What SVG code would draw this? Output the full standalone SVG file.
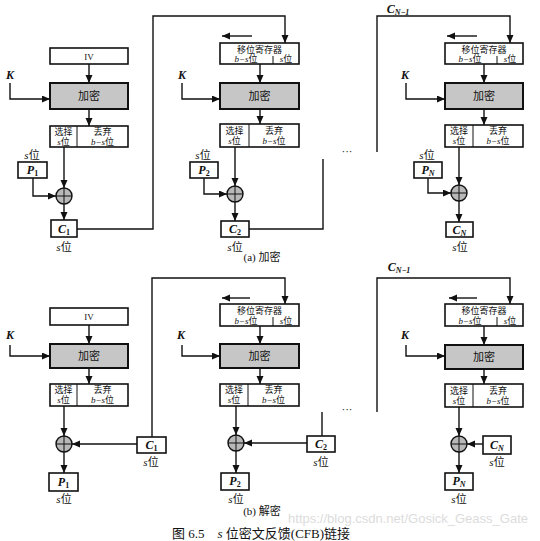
<svg xmlns="http://www.w3.org/2000/svg" width="540" height="541" viewBox="0 0 540 541">
<defs>
<marker id="ah" markerUnits="userSpaceOnUse" markerWidth="9" markerHeight="8" refX="8" refY="3.5" orient="auto">
<path d="M0,0 L8,3.5 L0,7 z" fill="#111"/>
</marker>
<style>
.bx{fill:#fff;stroke:#111;stroke-width:1.6}
.enc{fill:#c6c6c6;stroke:#111;stroke-width:2}
.ln{fill:none;stroke:#111;stroke-width:1.4}
.ar{fill:none;stroke:#111;stroke-width:1.4;marker-end:url(#ah)}
.dv{stroke:#111;stroke-width:1}
.x{fill:#b8b8b8;stroke:#111;stroke-width:1.4}
text{font-family:"Liberation Serif","Noto Sans CJK SC",serif;fill:#111;text-anchor:middle}
.t9{font-size:9px}
.t11{font-size:11px}
.v{font-size:12px;font-weight:bold;font-style:italic}
.sub{font-size:8px;font-style:normal}
.subn{font-size:8px}
.i{font-style:italic}
</style>
</defs>
<rect width="540" height="541" fill="#fff"/>

<g id="connectors">
<!-- (a) col1 -->
<path class="ar" d="M89,64 V83"/>
<path class="ar" d="M89,109 V126"/>
<path class="ar" d="M10,83 V99 H50"/>
<path class="ar" d="M64,147 V188"/>
<path class="ar" d="M33,178 V196 H56"/>
<path class="ar" d="M64,204 V220"/>
<path class="ar" d="M77,229 H153 V16 H285 V43"/>
<!-- (a) col2 -->
<path class="ar" d="M252,36 H222"/>
<path class="ar" d="M260,64 V83"/>
<path class="ar" d="M260,109 V124"/>
<path class="ar" d="M182,83 V99 H220"/>
<path class="ar" d="M235,147 V186"/>
<path class="ar" d="M204,178 V194 H227"/>
<path class="ar" d="M235,202 V221"/>
<path class="ln" d="M249,229 H323 V159"/>
<!-- (a) col3 -->
<path class="ar" d="M377,152 V16 H510 V43"/>
<path class="ar" d="M477,36 H447"/>
<path class="ar" d="M484,64 V83"/>
<path class="ar" d="M484,109 V125"/>
<path class="ar" d="M406,83 V99 H445"/>
<path class="ar" d="M459,147 V185"/>
<path class="ar" d="M428,178 V193 H451"/>
<path class="ar" d="M459,201 V222"/>
<!-- (b) col1 -->
<path class="ar" d="M89,325 V344"/>
<path class="ar" d="M89,368 V384"/>
<path class="ar" d="M10,345 V356 H50"/>
<path class="ar" d="M64,406 V436"/>
<path class="ar" d="M137,444 H72"/>
<path class="ar" d="M152,437 V278 H285 V304"/>
<path class="ar" d="M64,452 V473"/>
<!-- (b) col2 -->
<path class="ar" d="M250,298 H222"/>
<path class="ar" d="M260,326 V344"/>
<path class="ar" d="M260,368 V384"/>
<path class="ar" d="M182,345 V356 H220"/>
<path class="ar" d="M236,406 V435"/>
<path class="ar" d="M307,443 H244"/>
<path class="ln" d="M322,436 V412"/>
<path class="ar" d="M236,451 V473"/>
<!-- (b) col3 -->
<path class="ar" d="M377,412 V278 H510 V304"/>
<path class="ar" d="M477,298 H449"/>
<path class="ar" d="M484,326 V345"/>
<path class="ar" d="M484,369 V384"/>
<path class="ar" d="M406,345 V356 H445"/>
<path class="ar" d="M459,407 V436"/>
<path class="ar" d="M483,444 H467"/>
<path class="ar" d="M459,452 V473"/>
</g>

<!-- ===== (a) col1 ===== -->
<g id="a-iv"><rect class="bx" x="50" y="48" width="78" height="16"/><text class="t9" x="89" y="60">IV</text></g>
<g id="a-enc1"><rect class="enc" x="50" y="83" width="78" height="26"/><text class="t11" x="89" y="100">加密</text></g>
<g id="a-k1"><text class="v" x="10" y="79">K</text></g>
<g id="a-sel1"><rect class="bx" x="50" y="126" width="78" height="21"/><line class="dv" x1="77" y1="126" x2="77" y2="147"/>
<text class="t9" x="63.5" y="135">选择</text><text class="t9" x="63.5" y="145"><tspan class="i">s</tspan>位</text>
<text class="t9" x="102.5" y="135">丢弃</text><text class="t9" x="102.5" y="145"><tspan class="i">b−s</tspan>位</text></g>
<g id="a-p1"><text class="t11" x="32" y="159"><tspan class="i">s</tspan>位</text><rect class="bx" x="18" y="162" width="29" height="16"/><text class="v" x="32.5" y="174">P<tspan class="sub" dy="2">1</tspan></text></g>
<g id="a-x1"><circle class="x" cx="64" cy="196" r="8"/><path class="dv" d="M56,196 H72 M64,188 V204"/></g>
<g id="a-c1"><rect class="bx" x="51" y="220" width="26" height="17"/><text class="v" x="64" y="233">C<tspan class="sub" dy="2">1</tspan></text><text class="t11" x="64" y="251"><tspan class="i">s</tspan>位</text></g>

<!-- ===== (a) col2 ===== -->
<g id="a-sr2"><rect class="bx" x="220" y="43" width="79" height="21"/><line class="dv" x1="273" y1="56" x2="273" y2="64"/>
<text class="t9" x="259.5" y="53">移位寄存器</text><text class="t9" x="246" y="62"><tspan class="i">b−s</tspan>位</text><text class="t9" x="286" y="62"><tspan class="i">s</tspan>位</text></g>
<g id="a-enc2"><rect class="enc" x="220" y="83" width="79" height="26"/><text class="t11" x="259.5" y="100">加密</text></g>
<g id="a-k2"><text class="v" x="182" y="79">K</text></g>
<g id="a-sel2"><rect class="bx" x="220" y="124" width="79" height="23"/><line class="dv" x1="249" y1="124" x2="249" y2="147"/>
<text class="t9" x="234.5" y="134">选择</text><text class="t9" x="234.5" y="144"><tspan class="i">s</tspan>位</text>
<text class="t9" x="274" y="134">丢弃</text><text class="t9" x="274" y="144"><tspan class="i">b−s</tspan>位</text></g>
<g id="a-p2"><text class="t11" x="203" y="159"><tspan class="i">s</tspan>位</text><rect class="bx" x="190" y="162" width="28" height="16"/><text class="v" x="204" y="174">P<tspan class="sub" dy="2">2</tspan></text></g>
<g id="a-x2"><circle class="x" cx="235" cy="194" r="8"/><path class="dv" d="M227,194 H243 M235,186 V202"/></g>
<g id="a-c2"><rect class="bx" x="221" y="221" width="28" height="16"/><text class="v" x="235" y="233">C<tspan class="sub" dy="2">2</tspan></text><text class="t11" x="235" y="251"><tspan class="i">s</tspan>位</text></g>
<g id="a-dots"><text class="t11" x="347" y="155">···</text></g>

<!-- ===== (a) col3 ===== -->
<g id="a-cn1"><text class="v" x="398" y="13">C<tspan class="subn" dy="2">N−1</tspan></text></g>
<g id="a-sr3"><rect class="bx" x="445" y="43" width="78" height="21"/><line class="dv" x1="497" y1="56" x2="497" y2="64"/>
<text class="t9" x="484" y="53">移位寄存器</text><text class="t9" x="470" y="62"><tspan class="i">b−s</tspan>位</text><text class="t9" x="510" y="62"><tspan class="i">s</tspan>位</text></g>
<g id="a-enc3"><rect class="enc" x="445" y="83" width="78" height="26"/><text class="t11" x="484" y="100">加密</text></g>
<g id="a-k3"><text class="v" x="405" y="79">K</text></g>
<g id="a-sel3"><rect class="bx" x="445" y="125" width="78" height="22"/><line class="dv" x1="473" y1="125" x2="473" y2="147"/>
<text class="t9" x="459" y="134">选择</text><text class="t9" x="459" y="144"><tspan class="i">s</tspan>位</text>
<text class="t9" x="498" y="134">丢弃</text><text class="t9" x="498" y="144"><tspan class="i">b−s</tspan>位</text></g>
<g id="a-pn"><text class="t11" x="427" y="159"><tspan class="i">s</tspan>位</text><rect class="bx" x="414" y="162" width="28" height="16"/><text class="v" x="428" y="174">P<tspan class="subn" dy="2">N</tspan></text></g>
<g id="a-x3"><circle class="x" cx="459" cy="193" r="8"/><path class="dv" d="M451,193 H467 M459,185 V201"/></g>
<g id="a-cn"><rect class="bx" x="446" y="222" width="27" height="15"/><text class="v" x="459.5" y="234">C<tspan class="subn" dy="2">N</tspan></text><text class="t11" x="460" y="251"><tspan class="i">s</tspan>位</text></g>

<text class="t11" x="262" y="261">(a) 加密</text>

<!-- ===== (b) col1 ===== -->
<g id="b-iv"><rect class="bx" x="50" y="308" width="78" height="17"/><text class="t9" x="89" y="320">IV</text></g>
<g id="b-enc1"><rect class="enc" x="50" y="344" width="78" height="24"/><text class="t11" x="89" y="360">加密</text></g>
<g id="b-k1"><text class="v" x="10" y="339">K</text></g>
<g id="b-sel1"><rect class="bx" x="50" y="384" width="78" height="22"/><line class="dv" x1="77" y1="384" x2="77" y2="406"/>
<text class="t9" x="63.5" y="393">选择</text><text class="t9" x="63.5" y="403"><tspan class="i">s</tspan>位</text>
<text class="t9" x="102.5" y="393">丢弃</text><text class="t9" x="102.5" y="403"><tspan class="i">b−s</tspan>位</text></g>
<g id="b-x1"><circle class="x" cx="64" cy="444" r="8"/><path class="dv" d="M56,444 H72 M64,436 V452"/></g>
<g id="b-c1"><rect class="bx" x="137" y="437" width="29" height="16"/><text class="v" x="151.5" y="449">C<tspan class="sub" dy="2">1</tspan></text><text class="t11" x="151" y="466"><tspan class="i">s</tspan>位</text></g>
<g id="b-p1"><rect class="bx" x="49" y="473" width="29" height="18"/><text class="v" x="63.5" y="486">P<tspan class="sub" dy="2">1</tspan></text><text class="t11" x="64" y="503"><tspan class="i">s</tspan>位</text></g>

<!-- ===== (b) col2 ===== -->
<g id="b-sr2"><rect class="bx" x="220" y="304" width="79" height="22"/><line class="dv" x1="273" y1="317" x2="273" y2="326"/>
<text class="t9" x="259.5" y="314">移位寄存器</text><text class="t9" x="246" y="324"><tspan class="i">b−s</tspan>位</text><text class="t9" x="286" y="324"><tspan class="i">s</tspan>位</text></g>
<g id="b-enc2"><rect class="enc" x="220" y="344" width="79" height="24"/><text class="t11" x="259.5" y="360">加密</text></g>
<g id="b-k2"><text class="v" x="181" y="339">K</text></g>
<g id="b-sel2"><rect class="bx" x="220" y="384" width="79" height="22"/><line class="dv" x1="248" y1="384" x2="248" y2="406"/>
<text class="t9" x="234" y="393">选择</text><text class="t9" x="234" y="403"><tspan class="i">s</tspan>位</text>
<text class="t9" x="273.5" y="393">丢弃</text><text class="t9" x="273.5" y="403"><tspan class="i">b−s</tspan>位</text></g>
<g id="b-x2"><circle class="x" cx="236" cy="443" r="8"/><path class="dv" d="M228,443 H244 M236,435 V451"/></g>
<g id="b-c2"><rect class="bx" x="307" y="436" width="28" height="16"/><text class="v" x="321" y="448">C<tspan class="sub" dy="2">2</tspan></text><text class="t11" x="321" y="466"><tspan class="i">s</tspan>位</text></g>
<g id="b-p2"><rect class="bx" x="221" y="473" width="28" height="17"/><text class="v" x="235" y="485">P<tspan class="sub" dy="2">2</tspan></text><text class="t11" x="236" y="503"><tspan class="i">s</tspan>位</text></g>
<g id="b-dots"><text class="t11" x="347" y="413">···</text></g>

<!-- ===== (b) col3 ===== -->
<g id="b-cn1"><text class="v" x="399" y="271">C<tspan class="subn" dy="2">N−1</tspan></text></g>
<g id="b-sr3"><rect class="bx" x="445" y="304" width="78" height="22"/><line class="dv" x1="497" y1="317" x2="497" y2="326"/>
<text class="t9" x="484" y="314">移位寄存器</text><text class="t9" x="470" y="324"><tspan class="i">b−s</tspan>位</text><text class="t9" x="510" y="324"><tspan class="i">s</tspan>位</text></g>
<g id="b-enc3"><rect class="enc" x="445" y="345" width="78" height="24"/><text class="t11" x="484" y="361">加密</text></g>
<g id="b-k3"><text class="v" x="405" y="339">K</text></g>
<g id="b-sel3"><rect class="bx" x="445" y="384" width="78" height="23"/><line class="dv" x1="473" y1="384" x2="473" y2="407"/>
<text class="t9" x="459" y="394">选择</text><text class="t9" x="459" y="404"><tspan class="i">s</tspan>位</text>
<text class="t9" x="498" y="394">丢弃</text><text class="t9" x="498" y="404"><tspan class="i">b−s</tspan>位</text></g>
<g id="b-x3"><circle class="x" cx="459" cy="444" r="8"/><path class="dv" d="M451,444 H467 M459,436 V452"/></g>
<g id="b-cn"><rect class="bx" x="483" y="436" width="28" height="18"/><text class="v" x="497" y="449">C<tspan class="subn" dy="2">N</tspan></text><text class="t11" x="497" y="466"><tspan class="i">s</tspan>位</text></g>
<g id="b-pn"><rect class="bx" x="445" y="473" width="28" height="17"/><text class="v" x="459" y="485">P<tspan class="subn" dy="2">N</tspan></text><text class="t11" x="459" y="503"><tspan class="i">s</tspan>位</text></g>

<text class="t11" x="262" y="515">(b) 解密</text>
<text x="528" y="523" style="font-family:'Liberation Sans',sans-serif;font-size:13px;fill:#dcdcdc;text-anchor:end">https://blog.csdn.net/Gosick_Geass_Gate</text>
<text x="172" y="538" style="font-size:13px;text-anchor:start">图 6.5　<tspan class="i">s</tspan> 位密文反馈(CFB)链接</text>
</svg>
